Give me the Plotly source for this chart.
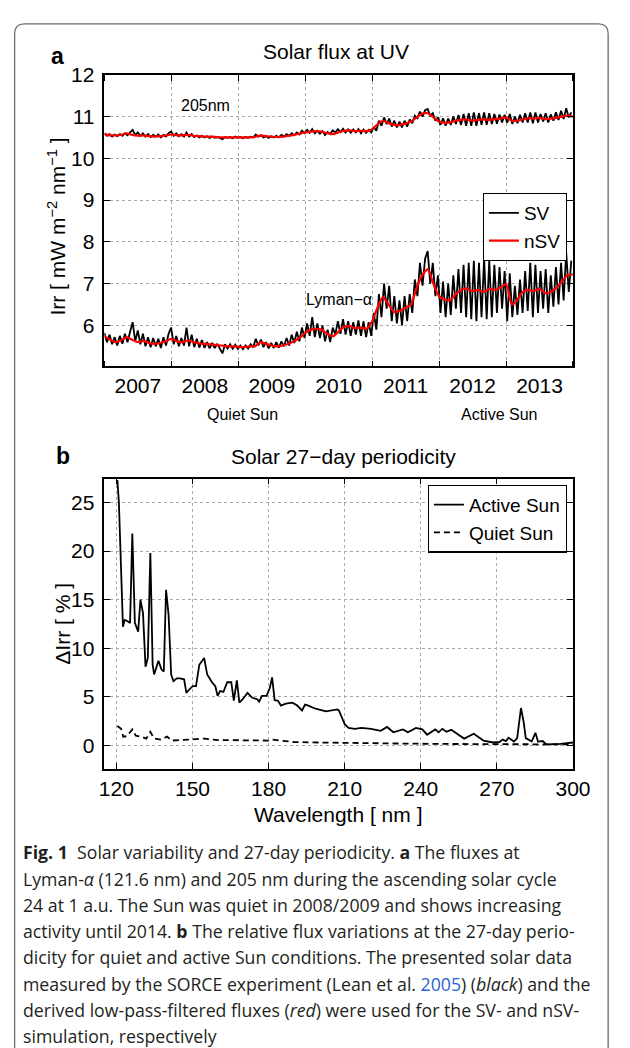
import plotly.graph_objects as go
import pandas as pd

# ---------------- DATA ----------------
# Panel a: biweekly SORCE samples (SV, black) and monthly low-pass (nSV, red)
sv_start = "2007-01-01"
lya_sv = [
    5.82, 5.60, 5.78, 5.55, 5.72, 5.52, 5.75, 5.56, 5.80, 5.60, 5.85, 6.08, 5.62, 5.88, 5.55, 5.80, 5.50, 5.72, 5.48, 5.70, 5.50, 5.68, 5.46, 5.72, 5.52, 5.80,
    5.95, 5.55, 5.75, 5.50, 5.70, 5.52, 5.95, 5.50, 5.78, 5.48, 5.68, 5.47, 5.65, 5.46, 5.60, 5.45, 5.58, 5.46, 5.56, 5.45, 5.33, 5.55, 5.45, 5.55, 5.44, 5.54,
    5.44, 5.52, 5.43, 5.52, 5.45, 5.55, 5.48, 5.68, 5.52, 5.66, 5.48, 5.60, 5.45, 5.58, 5.46, 5.60, 5.47, 5.62, 5.50, 5.70, 5.52, 5.78, 5.58, 5.85, 5.62, 5.95,
    5.70, 6.05, 5.75, 6.20, 5.72, 6.05, 5.70, 6.00, 5.62, 5.90, 5.60, 5.95, 5.78, 6.10, 5.80, 6.15, 5.78, 6.10, 5.75, 6.08, 5.78, 6.12, 5.75, 6.10, 5.72, 6.08, 5.75,
    6.30, 5.90, 6.75, 6.20, 7.00, 6.40, 6.95, 6.10, 6.70, 6.05, 6.60, 6.00, 6.70, 6.10, 6.75, 6.30, 7.10, 6.70, 7.50, 6.95, 7.60, 7.78, 7.00, 7.50, 6.70, 7.20,
    6.30, 7.05, 6.20, 7.00, 6.25, 7.20, 6.40, 7.35, 6.30, 7.45, 6.20, 7.50, 6.15, 7.55, 6.10, 7.50, 6.20, 7.60, 6.15, 7.55, 6.20, 7.45, 6.30, 7.40, 6.40, 7.30,
    6.10, 7.25, 6.20, 6.95, 6.25, 7.10, 6.30, 7.30, 6.35, 7.50, 6.20, 7.45, 6.30, 7.30, 6.40, 7.35, 6.30, 7.20, 6.45, 7.40, 6.50, 7.50, 6.60, 7.75, 6.80, 7.55,
]
uv205_sv = [
    10.60, 10.54, 10.58, 10.52, 10.57, 10.53, 10.58, 10.54, 10.60, 10.55, 10.62, 10.68, 10.56, 10.62, 10.54, 10.60, 10.52, 10.58, 10.51, 10.56, 10.52, 10.57, 10.50, 10.56, 10.52, 10.60,
    10.64, 10.54, 10.60, 10.53, 10.58, 10.52, 10.62, 10.52, 10.58, 10.51, 10.55, 10.50, 10.54, 10.50, 10.53, 10.49, 10.52, 10.49, 10.51, 10.49, 10.46, 10.51, 10.49, 10.51, 10.48, 10.52,
    10.49, 10.51, 10.48, 10.51, 10.49, 10.52, 10.50, 10.57, 10.52, 10.55, 10.50, 10.53, 10.49, 10.53, 10.50, 10.54, 10.50, 10.56, 10.52, 10.58, 10.54, 10.60, 10.55, 10.62, 10.57, 10.66,
    10.60, 10.68, 10.61, 10.70, 10.60, 10.66, 10.59, 10.65, 10.56, 10.63, 10.58, 10.67, 10.62, 10.70, 10.63, 10.71, 10.62, 10.69, 10.61, 10.69, 10.62, 10.70, 10.60, 10.69, 10.61, 10.68, 10.62,
    10.75, 10.66, 10.90, 10.78, 10.98, 10.82, 10.95, 10.76, 10.90, 10.74, 10.88, 10.74, 10.90, 10.76, 10.93, 10.84, 11.02, 10.96, 11.12, 11.00, 11.15, 11.18, 11.02, 11.08, 10.90, 10.98,
    10.80, 10.96, 10.78, 10.95, 10.80, 11.00, 10.82, 11.04, 10.80, 11.06, 10.78, 11.08, 10.78, 11.10, 10.78, 11.08, 10.80, 11.10, 10.80, 11.08, 10.82, 11.06, 10.83, 11.05, 10.86, 11.04,
    10.85, 11.06, 10.82, 11.00, 10.84, 11.04, 10.86, 11.08, 10.86, 11.10, 10.84, 11.10, 10.86, 11.06, 10.88, 11.08, 10.86, 11.05, 10.90, 11.10, 10.92, 11.14, 10.94, 11.20, 10.98, 11.10,
]
nsv_start = "2007-01-01"
lya_nsv = [
    5.75, 5.66, 5.60, 5.64, 5.72, 5.66, 5.60, 5.63, 5.58, 5.56, 5.58, 5.62,
    5.68, 5.62, 5.60, 5.64, 5.60, 5.57, 5.56, 5.55, 5.53, 5.52, 5.50, 5.50,
    5.49, 5.48, 5.50, 5.50, 5.60, 5.56, 5.52, 5.50, 5.52, 5.56, 5.62, 5.70,
    5.82, 5.90, 5.92, 5.90, 5.80, 5.74, 5.85, 5.97, 5.98, 5.93, 5.95, 5.92,
    6.10, 6.45, 6.68, 6.50, 6.32, 6.35, 6.42, 6.50, 6.90, 7.20, 7.35, 7.00,
    6.70, 6.62, 6.60, 6.75, 6.85, 6.88, 6.82, 6.85, 6.80, 6.88, 6.85, 6.90,
    6.99, 6.50, 6.60, 6.80, 6.85, 6.82, 6.88, 6.78, 6.80, 6.90, 7.05, 7.20,
    7.22,
]
uv205_nsv = [
    10.58, 10.55, 10.55, 10.56, 10.60, 10.56, 10.54, 10.55, 10.53, 10.52, 10.53, 10.55,
    10.57, 10.55, 10.55, 10.56, 10.54, 10.53, 10.52, 10.52, 10.51, 10.50, 10.50, 10.50,
    10.50, 10.50, 10.50, 10.51, 10.55, 10.53, 10.52, 10.51, 10.52, 10.54, 10.56, 10.59,
    10.62, 10.64, 10.65, 10.64, 10.60, 10.58, 10.62, 10.66, 10.67, 10.65, 10.66, 10.65,
    10.70, 10.82, 10.90, 10.84, 10.80, 10.80, 10.83, 10.88, 10.98, 11.07, 11.08, 10.98,
    10.88, 10.85, 10.86, 10.90, 10.92, 10.93, 10.90, 10.92, 10.93, 10.92, 10.94, 10.95,
    10.98, 10.90, 10.90, 10.93, 10.96, 10.95, 10.97, 10.94, 10.95, 10.97, 11.00, 11.02,
    11.00,
]
year_ticks_start = "2007-01-01"
year_range = ["2007-01-01", "2014-01-01"]
irr_ticks = [6, 7, 8, 9, 10, 11, 12]

# Panel b: 27-day periodicity vs wavelength
wl_active = [120.4, 121.0, 121.5, 122.1, 122.6, 123.3, 124.3, 125.4, 126.3, 127.3, 128.6, 129.5, 130.5, 131.5,
             132.4, 133.4, 134.3, 134.9, 136.6, 137.8, 138.7, 139.6, 140.6, 141.6, 142.5, 143.8, 145.1, 146.7,
             147.6, 148.9, 150.1, 151.4, 152.7, 154.6, 155.8, 157.7, 159.0, 159.9, 160.9, 162.2, 163.7, 165.3,
             166.3, 167.5, 168.5, 169.8, 171.7, 173.6, 175.5, 176.3, 177.4, 179.2, 180.5, 181.4, 182.4, 183.7,
             184.9, 186.8, 189.4, 191.3, 193.2, 194.4, 195.7, 198.2, 202.6, 207.1, 207.7, 210.0, 211.5, 214.0,
             216.6, 220.4, 224.2, 226.7, 229.2, 233.0, 234.9, 238.1, 240.6, 242.5, 245.7, 247.0, 248.5, 250.1,
             252.0, 257.1, 260.9, 264.7, 268.5, 271.0, 272.3, 273.6, 274.6, 276.7, 278.0, 279.5, 280.5, 281.4,
             283.7, 285.2, 286.2, 288.1, 289.4, 295.1, 300.0]
active_sun = [27.3, 25.0, 21.0, 14.5, 12.2, 12.9, 12.8, 12.6, 21.8, 12.6, 11.7, 15.0, 13.6, 8.1,
              9.0, 19.8, 8.3, 7.3, 8.7, 7.8, 7.6, 16.0, 13.4, 7.3, 6.6, 6.9, 6.9, 6.8,
              5.4, 5.8, 6.1, 6.1, 8.3, 9.0, 7.3, 6.5, 6.1, 5.1, 5.6, 5.5, 6.5, 6.5,
              4.6, 6.7, 4.4, 4.75, 5.4, 4.9, 4.75, 4.5, 5.1, 5.1, 5.9, 7.0, 4.65, 4.6,
              4.1, 4.3, 4.4, 4.1, 3.6, 4.2, 4.1, 3.8, 3.5, 3.7, 3.6, 2.2, 1.8, 1.7,
              1.8, 1.7, 1.5, 1.9, 1.35, 1.65, 1.35, 1.8, 1.65, 1.1, 1.65, 1.35, 1.7, 1.4,
              1.6, 0.7, 1.2, 0.5, 0.3, 0.35, 0.6, 0.45, 0.8, 0.4, 0.75, 3.85, 2.5, 0.75,
              0.4, 1.3, 0.4, 0.45, 0.1, 0.15, 0.3]
wl_quiet = [120.4, 121.9, 122.7, 124.2, 126.3, 127.7, 129.9, 131.8, 133.4, 134.9, 137.5, 140.0, 141.9,
            152.0, 154.6, 160.0, 170.0, 179.8, 181.1, 190.0, 200.0, 210.0, 230.0, 250.0, 270.0, 285.0, 300.0]
quiet_sun = [2.0, 1.7, 0.9, 0.95, 1.65, 1.0, 0.9, 0.7, 1.4, 0.7, 0.6, 0.9, 0.5,
             0.6, 0.7, 0.55, 0.5, 0.5, 0.6, 0.35, 0.3, 0.25, 0.2, 0.15, 0.12, 0.1, 0.1]
wl_ticks = [120, 150, 180, 210, 240, 270, 300]
pct_ticks = [0, 5, 10, 15, 20, 25]

caption_lines = [
    "<b>Fig. 1</b>\u00a0\u00a0Solar variability and 27-day periodicity. <b>a</b> The fluxes at",
    "Lyman-<i>α</i> (121.6 nm) and 205 nm during the ascending solar cycle",
    "24 at 1 a.u. The Sun was quiet in 2008/2009 and shows increasing",
    "activity until 2014. <b>b</b> The relative flux variations at the 27-day perio-",
    "dicity for quiet and active Sun conditions. The presented solar data",
    "measured by the SORCE experiment (Lean et al. <span style='color:#2a62d4'>2005</span>) (<i>black</i>) and the",
    "derived low-pass-filtered fluxes (<i>red</i>) were used for the SV- and nSV-",
    "simulation, respectively",
]

# ---------------- LAYOUT HELPERS ----------------
W, H = 630, 1048
def fx(px):
    return px / W
def fy(py):
    return 1 - py / H

F = "Liberation Sans, Arial, sans-serif"
CF = "Open Sans, sans-serif"
TS = 21

dates_sv = pd.date_range(sv_start, periods=len(lya_sv), freq="14D")
dates_nsv = pd.date_range(nsv_start, periods=len(lya_nsv), freq="MS")

fig = go.Figure()
fig.add_trace(go.Scatter(x=dates_sv, y=uv205_sv, mode="lines", line=dict(color="black", width=1.8),
                         name="SV", showlegend=False, xaxis="x", yaxis="y"))
fig.add_trace(go.Scatter(x=dates_sv, y=lya_sv, mode="lines", line=dict(color="black", width=1.8),
                         name="SV", legend="legend", xaxis="x", yaxis="y"))
fig.add_trace(go.Scatter(x=dates_nsv, y=uv205_nsv, mode="lines", line=dict(color="#ff0000", width=2.2, shape="spline", smoothing=0.6),
                         name="nSV", showlegend=False, xaxis="x", yaxis="y"))
fig.add_trace(go.Scatter(x=dates_nsv, y=lya_nsv, mode="lines", line=dict(color="#ff0000", width=2.2, shape="spline", smoothing=0.6),
                         name="nSV", legend="legend", xaxis="x", yaxis="y"))

fig.add_trace(go.Scatter(x=wl_active, y=active_sun, mode="lines", line=dict(color="black", width=1.8),
                         name="Active Sun", legend="legend2", xaxis="x2", yaxis="y2"))
fig.add_trace(go.Scatter(x=wl_quiet, y=quiet_sun, mode="lines", line=dict(color="black", width=1.8, dash="6px,4px"),
                         name="Quiet Sun", legend="legend2", xaxis="x2", yaxis="y2"))

axis_common = dict(
    showline=True, linecolor="black", linewidth=1.5, mirror="ticks",
    ticks="inside", ticklen=6, tickwidth=1, tickcolor="black",
    showgrid=True, gridcolor="#a8a8a8", gridwidth=1, griddash="dot",
    zeroline=False, tickfont=dict(family=F, size=TS, color="black"),
)

xdom = [fx(103.2), fx(589.5)]
fig.update_layout(
    width=W, height=H,
    margin=dict(l=0, r=0, t=0, b=0),
    paper_bgcolor="white", plot_bgcolor="white",
    font=dict(family=F, color="black"),
    xaxis=dict(axis_common, type="date", domain=xdom, anchor="y", range=year_range,
               tick0=year_ticks_start, dtick="M12", tickformat="%Y", ticklabelmode="period"),
    yaxis=dict(axis_common, domain=[fy(358.5), fy(63.5)], anchor="x", range=[5.02, 12],
               tickvals=irr_ticks, ticklabelstandoff=4),
    xaxis2=dict(axis_common, domain=xdom, anchor="y2", range=[115.3, 300], tickvals=wl_ticks),
    yaxis2=dict(axis_common, domain=[fy(766), fy(472)], anchor="x2", range=[-2.45, 27.45],
                tickvals=pct_ticks, ticklabelstandoff=4),
    legend=dict(x=fx(583), y=fy(183), xanchor="right", yanchor="top", bgcolor="white",
                bordercolor="black", borderwidth=1.2, font=dict(family=F, size=19, color="black"),
                tracegroupgap=0, itemwidth=30),
    legend2=dict(x=fx(583), y=fy(478), xanchor="right", yanchor="top", bgcolor="white",
                 bordercolor="black", borderwidth=1.2, font=dict(family=F, size=19, color="black"),
                 tracegroupgap=0, itemwidth=30),
)

ann = []
def txt(x, y, s, size=TS, family=F, xanchor="center", angle=0, color="black"):
    ann.append(dict(x=fx(x), y=fy(y), xref="paper", yref="paper", text=s, showarrow=False,
                    xanchor=xanchor, yanchor="middle", textangle=angle,
                    font=dict(family=family, size=size, color=color)))

txt(344, 40, "Solar flux at UV")
txt(54, 45, "<b>a</b>", size=23)
txt(351, 450, "Solar 27\u2212day periodicity")
txt(60, 449, "<b>b</b>", size=23)
txt(208, 95, "205nm", size=16)
txt(347, 291, "Lyman\u2212α", size=16)
txt(247, 407, "Quiet Sun", size=16)
txt(513, 407, "Active Sun", size=16)
txt(53, 217, "Irr [ mW m<sup>\u22122</sup> nm<sup>\u22121</sup> ]", angle=-90)
txt(60, 619, "ΔIrr [ % ]", angle=-90)
txt(346, 812, "Wavelength [ nm ]")

for k, line in enumerate(caption_lines):
    txt(17, 850 + 26.6 * k, line, size=17.7, family=CF, xanchor="left", color="#231f20")

fig.update_layout(annotations=ann)

# frame around figure (rounded top corners)
x0, x1, y0 = fx(10), fx(626), fy(12)
rx, ry = 10 / W, 10 / H
path = (f"M {x0},{fy(1050)} L {x0},{y0 - ry} Q {x0},{y0} {x0 + rx},{y0} "
        f"L {x1 - rx},{y0} Q {x1},{y0} {x1},{y0 - ry} L {x1},{fy(1050)}")
fig.add_shape(type="path", path=path, xref="paper", yref="paper",
              line=dict(color="#6b6b6b", width=1.3))

fig.write_html("out.html", config={"displayModeBar": False},
               post_script="document.body.style.margin='0';document.body.style.overflow='hidden';")
